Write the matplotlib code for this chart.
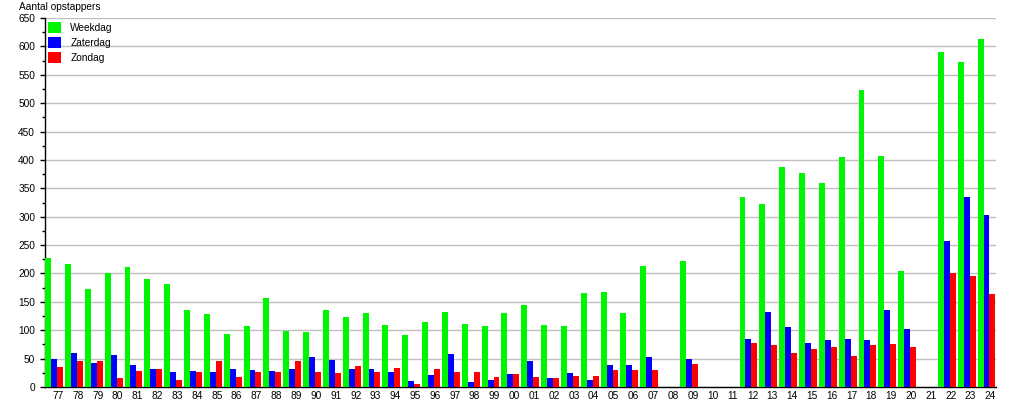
import numpy as np
import matplotlib.pyplot as plt
from matplotlib.patches import Patch

plt.rcParams['font.family'] = ['Liberation Sans', 'DejaVu Sans']

jaren = ['77', '78', '79', '80', '81', '82', '83', '84', '85', '86', '87', '88',
         '89', '90', '91', '92', '93', '94', '95', '96', '97', '98', '99', '00',
         '01', '02', '03', '04', '05', '06', '07', '08', '09', '10', '11', '12',
         '13', '14', '15', '16', '17', '18', '19', '20', '21', '22', '23', '24']

weekdag = [227, 217, 173, 201, 212, 191, 182, 135, 128, 93, 107, 157,
           99, 97, 136, 124, 131, 110, 92, 115, 132, 111, 108, 131,
           145, 110, 108, 166, 168, 130, 213, 0, 222, 0, 0, 334,
           322, 388, 377, 359, 405, 523, 407, 205, 0, 590, 572, 613]

zaterdag = [49, 60, 42, 56, 38, 31, 27, 29, 27, 32, 30, 29,
            32, 53, 48, 32, 32, 27, 11, 22, 59, 9, 13, 23,
            46, 16, 25, 13, 39, 39, 53, 0, 50, 0, 0, 85,
            132, 106, 78, 83, 85, 83, 136, 103, 0, 257, 335, 303]

zondag = [35, 45, 45, 15, 29, 31, 13, 27, 46, 18, 27, 27,
          45, 27, 25, 37, 27, 34, 6, 32, 27, 27, 18, 23,
          18, 16, 20, 20, 30, 30, 30, 0, 41, 0, 0, 78,
          74, 60, 67, 71, 55, 74, 76, 71, 0, 201, 196, 164]

series = [('Weekdag', weekdag, '#00f500'),
          ('Zaterdag', zaterdag, '#0000ff'),
          ('Zondag', zondag, '#ff0000')]

fs = 7.3

fig = plt.figure(figsize=(10.15, 4.0), dpi=100)
ax = fig.add_axes([45 / 1015, 13 / 400, 951 / 1015, 369 / 400])

x = np.arange(len(jaren))
w = 0.3
for k, (naam, waarden, kleur) in enumerate(series):
    ax.bar(x + (k - 1) * w, waarden, width=w, color=kleur, linewidth=0, zorder=3)

ax.set_xlim(-0.46, len(jaren) - 0.52)
ax.set_ylim(0, 650)
ax.set_yticks(np.arange(0, 651, 50))
ax.set_yticks(np.arange(25, 650, 50), minor=True)
ax.yaxis.grid(True, color='#c0c0c0', linewidth=1, zorder=0)

ax.set_xticks(x + 0.2)
ax.set_xticklabels(jaren)
ax.tick_params(axis='x', length=0, pad=3, labelsize=fs)
ax.tick_params(axis='y', which='major', length=3.6, width=1, pad=3.5, labelsize=fs)
ax.tick_params(axis='y', which='minor', length=2.2, width=1)

for s in ['top', 'right']:
    ax.spines[s].set_visible(False)
ax.spines['left'].set_linewidth(1)
ax.spines['bottom'].set_linewidth(1)

handles = [Patch(facecolor=kleur, edgecolor='none', label=naam) for naam, _, kleur in series]
ax.legend(handles=handles, loc='upper left', bbox_to_anchor=(3 / 951, 1 - 4 / 369),
          frameon=False, fontsize=fs, handlelength=1.3, handleheight=1.3,
          handletextpad=0.9, labelspacing=0.4, borderpad=0, borderaxespad=0)

fig.text(19 / 1015, 1 - 7 / 400, 'Aantal opstappers', fontsize=fs, va='center', ha='left')

fig.savefig('out.png', dpi=100)
